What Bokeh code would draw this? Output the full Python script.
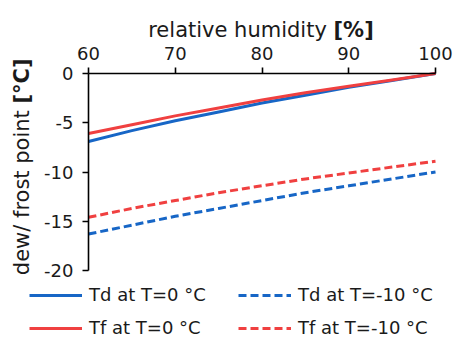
from bokeh.plotting import figure
from bokeh.models import Range1d, Label, Legend, LegendItem, FixedTicker
from bokeh.embed import file_html
from bokeh.resources import INLINE
import math

rh = [60, 65, 70, 75, 80, 85, 90, 95, 100]
td_0 = [-6.9, -5.8, -4.8, -3.9, -3.0, -2.2, -1.4, -0.7, 0.0]
tf_0 = [-6.1, -5.2, -4.3, -3.5, -2.7, -1.95, -1.3, -0.65, 0.0]
td_m10 = [-16.3, -15.4, -14.5, -13.7, -12.9, -12.1, -11.4, -10.7, -10.0]
tf_m10 = [-14.6, -13.7, -12.9, -12.1, -11.4, -10.7, -10.1, -9.5, -8.9]
x_ticks = [60, 70, 80, 90, 100]
y_ticks = [0, -5, -10, -15, -20]

BLUE = "#1766C6"
RED = "#F04040"
FONT = "DejaVu Sans"
TXT = "#1a1a1a"

W, H = 454, 338
# pixel placement of the data box (60..100, -20..0) inside the canvas
L, R, T, B = 88, 435, 73, 270
sx = (R - L) / (x_ticks[-1] - x_ticks[0])
sy = (B - T) / (y_ticks[0] - y_ticks[-1])
x0 = x_ticks[0] - L / sx
x1 = x_ticks[-1] + (W - R) / sx
y1 = y_ticks[0] + T / sy
y0 = y_ticks[-1] - (H - B) / sy

def px_x(px):
    return x0 + px / sx

def px_y(py):
    return y1 - py / sy

p = figure(width=W, height=H, output_backend="svg", toolbar_location=None,
           x_axis_location="above", x_range=Range1d(x0, x1), y_range=Range1d(y0, y1),
           min_border=0, min_border_left=0, min_border_right=0,
           min_border_top=0, min_border_bottom=0)
p.title.visible = False
p.outline_line_color = None
p.grid.visible = False

for ax, ticks, fixed in ((p.xaxis[0], x_ticks, y_ticks[0]), (p.yaxis[0], y_ticks, x_ticks[0])):
    ax.fixed_location = fixed
    ax.bounds = (min(ticks), max(ticks))
    ax.ticker = FixedTicker(ticks=ticks)
    ax.major_label_overrides = {t: str(t) for t in ticks}
    ax.minor_tick_line_color = None
    ax.major_tick_in = 0
    ax.major_tick_out = 6
    ax.axis_line_width = 1.6
    ax.major_tick_line_width = 1.6
    ax.axis_line_color = "black"
    ax.major_tick_line_color = "black"
    ax.major_label_text_font = FONT
    ax.major_label_text_font_size = "18px"
    ax.major_label_text_color = TXT
p.xaxis.major_label_standoff = 8
p.yaxis.major_label_standoff = 9

r1 = p.line(rh, td_0, line_color=BLUE, line_width=3)
r2 = p.line(rh, td_m10, line_color=BLUE, line_width=3, line_dash="8 4")
r3 = p.line(rh, tf_0, line_color=RED, line_width=3)
r4 = p.line(rh, tf_m10, line_color=RED, line_width=3, line_dash="8 4")

# axis titles with a bold unit part
xt_x, xt_y = px_x(333), px_y(29.5)
p.add_layout(Label(x=xt_x, y=xt_y, text="relative humidity ", text_align="right",
                   text_baseline="alphabetic", text_font=FONT, text_font_size="21px",
                   text_color=TXT))
p.add_layout(Label(x=xt_x, y=xt_y, text="[%]", text_align="left",
                   text_baseline="alphabetic", text_font=FONT, text_font_size="21px",
                   text_font_style="bold", text_color=TXT))
yt_x, yt_y = px_x(21), px_y(103)
p.add_layout(Label(x=yt_x, y=yt_y, text="dew/ frost point ", text_align="right",
                   text_baseline="middle", angle=math.pi / 2, text_font=FONT,
                   text_font_size="21px", text_color=TXT))
p.add_layout(Label(x=yt_x, y=yt_y, text="[°C]", text_align="left",
                   text_baseline="middle", angle=math.pi / 2, text_font=FONT,
                   text_font_size="21px", text_font_style="bold", text_color=TXT))

def make_legend(items, center_py):
    leg = Legend(items=items, location=(29, H - center_py - 10), orientation="horizontal",
                 glyph_width=53, glyph_height=20, label_height=20, label_width=130,
                 label_standoff=7, spacing=19, padding=0, margin=0,
                 border_line_alpha=0, background_fill_alpha=0,
                 label_text_font=FONT, label_text_font_size="18px",
                 label_text_color=TXT)
    p.add_layout(leg, "center")

make_legend([LegendItem(label="Td at T=0 °C", renderers=[r1]),
             LegendItem(label="Td at T=-10 °C", renderers=[r2])], 295)
make_legend([LegendItem(label="Tf at T=0 °C", renderers=[r3]),
             LegendItem(label="Tf at T=-10 °C", renderers=[r4])], 328)

open("out.html", "w").write(file_html(p, INLINE))
